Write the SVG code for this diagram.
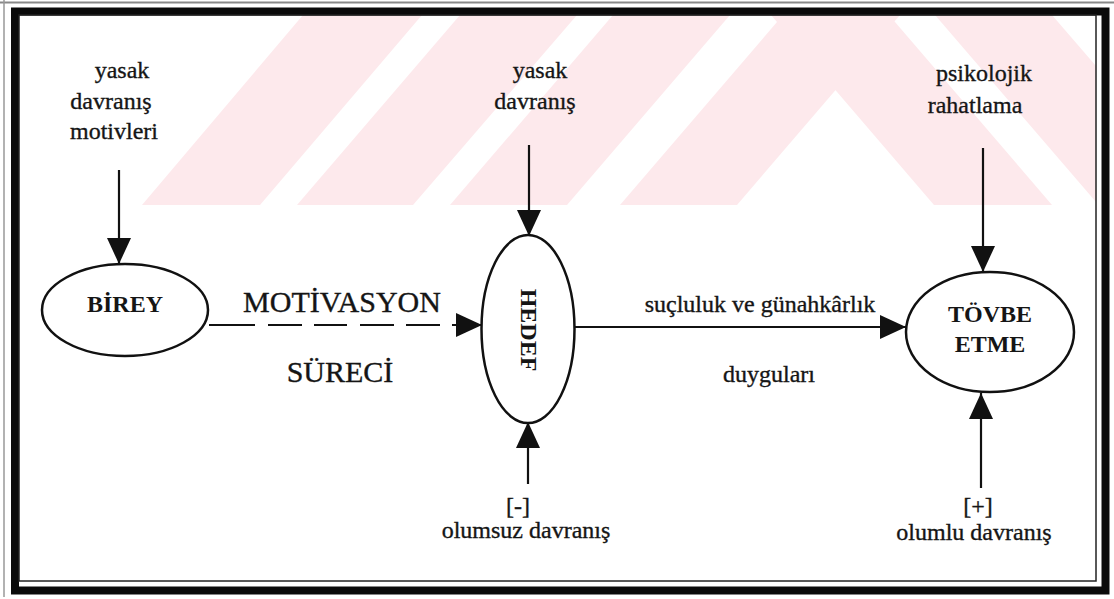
<svg xmlns="http://www.w3.org/2000/svg" width="1114" height="599" viewBox="0 0 1114 599">
  <style>
    .lbl { font-family: "Liberation Serif", "Times New Roman", serif; font-size: 24px; fill: #151515; stroke: #151515; stroke-width: 0.35; text-anchor: middle; }
    .big { font-family: "Liberation Serif", "Times New Roman", serif; font-size: 30px; fill: #151515; stroke: #151515; stroke-width: 0.35; text-anchor: middle; }
    .node { font-family: "Liberation Serif", "Times New Roman", serif; font-size: 24px; font-weight: bold; fill: #151515; text-anchor: middle; }
    .shape { fill: none; stroke: #111; stroke-width: 2.5; }
    .conn { fill: none; stroke: #111; stroke-width: 2.2; }
    .wm { fill: #fde9ec; }
  </style>
  <defs>
    <marker id="ah" markerUnits="userSpaceOnUse" markerWidth="26" markerHeight="24" refX="26" refY="12" orient="auto">
      <path d="M0,0 L26,12 L0,24 z" fill="#111"/>
    </marker>
  </defs>
  <rect width="1114" height="599" fill="#fff"/>
  <g id="watermark">
    <polygon class="wm" points="142,205 260,205 422,15 303,15"/>
    <polygon class="wm" points="297,205 413,205 577,15 460,15"/>
    <polygon class="wm" points="450,205 567,205 730,15 613,15"/>
    <polygon class="wm" points="620,205 737,205 900,15 783,15"/>
    <polygon class="wm" points="934,205 1052,205 889,15 771,15"/>
    <polygon class="wm" points="935,15 1052,15 1096,66 1096,202"/>
  </g>
  <g id="frame">
    <line x1="0" y1="2.5" x2="1114" y2="2.5" stroke="#888" stroke-width="2"/>
    <line x1="4" y1="0" x2="4" y2="597" stroke="#999" stroke-width="1.5"/>
    <rect x="15" y="11.5" width="1090.5" height="579" fill="none" stroke="#0a0a0a" stroke-width="8"/>
    <rect x="19" y="15" width="1077" height="566" fill="none" stroke="#222" stroke-width="1.5"/>
  </g>
  <g id="connectors">
    <line class="conn" x1="119" y1="170" x2="119" y2="264" marker-end="url(#ah)"/>
    <line class="conn" x1="529" y1="145" x2="529" y2="236" marker-end="url(#ah)"/>
    <line class="conn" x1="983" y1="148" x2="983" y2="272" marker-end="url(#ah)"/>
    <line class="conn" x1="209" y1="325" x2="482" y2="325" stroke-dasharray="46,13,34,12,33,13,34,12,34,12,40" marker-end="url(#ah)"/>
    <line class="conn" x1="575" y1="327" x2="906" y2="327" stroke-width="3" marker-end="url(#ah)"/>
    <line class="conn" x1="528" y1="484" x2="528" y2="422" marker-end="url(#ah)"/>
    <line class="conn" x1="981" y1="488" x2="981" y2="393" marker-end="url(#ah)"/>
  </g>
  <g id="birey">
    <ellipse class="shape" cx="125" cy="310" rx="83" ry="46"/>
    <text class="node" x="125" y="312">BİREY</text>
  </g>
  <g id="hedef">
    <ellipse class="shape" cx="528" cy="329" rx="46.5" ry="94"/>
    <text class="node" font-size="25" transform="translate(521,330) rotate(90)" x="0" y="0">HEDEF</text>
  </g>
  <g id="tovbe">
    <ellipse class="shape" cx="990" cy="332" rx="84" ry="60"/>
    <text class="node" x="990" y="322">TÖVBE</text>
    <text class="node" x="990" y="352">ETME</text>
  </g>
  <g id="lbl-motivler">
    <text class="lbl" x="122" y="78">yasak</text>
    <text class="lbl" x="111" y="109">davranış</text>
    <text class="lbl" x="114" y="139">motivleri</text>
  </g>
  <g id="lbl-yasak">
    <text class="lbl" x="540" y="78">yasak</text>
    <text class="lbl" x="535" y="109">davranış</text>
  </g>
  <g id="lbl-rahatlama">
    <text class="lbl" x="984" y="81">psikolojik</text>
    <text class="lbl" x="975" y="113">rahatlama</text>
  </g>
  <g id="lbl-motivasyon">
    <text class="big" x="342" y="312">MOTİVASYON</text>
    <text class="big" x="340" y="382">SÜRECİ</text>
  </g>
  <g id="lbl-duygular">
    <text class="lbl" x="760" y="312">suçluluk ve günahkârlık</text>
    <text class="lbl" x="769" y="382">duyguları</text>
  </g>
  <g id="lbl-olumsuz">
    <text class="lbl" x="518" y="514">[-]</text>
    <text class="lbl" x="526" y="538">olumsuz davranış</text>
  </g>
  <g id="lbl-olumlu">
    <text class="lbl" x="978" y="514">[+]</text>
    <text class="lbl" x="974" y="540">olumlu davranış</text>
  </g>
</svg>
